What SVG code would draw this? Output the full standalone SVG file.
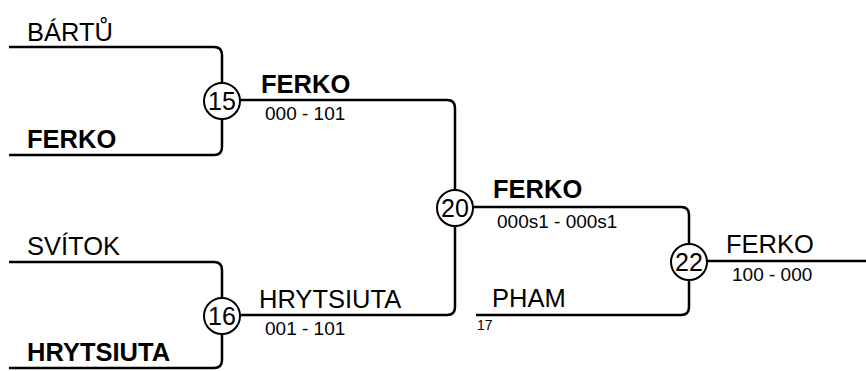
<svg xmlns="http://www.w3.org/2000/svg" width="866" height="371" viewBox="0 0 866 371">
<style>
.ln{fill:none;stroke:#000;stroke-width:2.5}
.c{fill:#fff;stroke:#000;stroke-width:2}
.nm{font-family:"Liberation Sans",Arial,sans-serif;font-size:25.5px;fill:#000}
.b{font-weight:bold}
.sc{font-family:"Liberation Sans",Arial,sans-serif;font-size:19px;fill:#000}
.num{font-family:"Liberation Sans",Arial,sans-serif;font-size:25px;fill:#000;text-anchor:middle}
.sd{font-family:"Liberation Sans",Arial,sans-serif;font-size:14px;fill:#000}
</style>
<rect width="866" height="371" fill="#fff"/>
<g id="connectors">
<path class="ln" d="M9,47 H214 Q222,47 222,55 V147 Q222,155 214,155 H9"/>
<path class="ln" d="M9,262 H214 Q222,262 222,270 V360 Q222,368 214,368 H9"/>
<path class="ln" d="M222,100 H447 Q455,100 455,108 V307 Q455,315 447,315 H222"/>
<path class="ln" d="M455,207 H681 Q689,207 689,215 V307 Q689,315 681,315 H476"/>
<path class="ln" d="M689,261 H866"/>
</g>
<g id="node-15">
<circle class="c" cx="222" cy="101" r="18"/>
<text class="num" x="222" y="110">15</text>
</g>
<g id="node-16">
<circle class="c" cx="222" cy="316" r="18"/>
<text class="num" x="222" y="325">16</text>
</g>
<g id="node-20">
<circle class="c" cx="455" cy="208" r="18"/>
<text class="num" x="455" y="217">20</text>
</g>
<g id="node-22">
<circle class="c" cx="689" cy="262" r="18"/>
<text class="num" x="689" y="271">22</text>
</g>
<g id="labels">
<text class="nm" x="27" y="41">BÁRTŮ</text>
<text class="nm b" x="27" y="148">FERKO</text>
<text class="nm" x="27" y="255">SVÍTOK</text>
<text class="nm b" x="27" y="361">HRYTSIUTA</text>
<text class="nm b" x="261" y="93">FERKO</text>
<text class="sc" x="265" y="120">000 - 101</text>
<text class="nm" x="259" y="308">HRYTSIUTA</text>
<text class="sc" x="265" y="335">001 - 101</text>
<text class="nm b" x="493" y="198">FERKO</text>
<text class="sc" x="497" y="228">000s1 - 000s1</text>
<text class="nm" x="492" y="307">PHAM</text>
<text class="sd" x="477" y="330">17</text>
<text class="nm" x="726" y="253">FERKO</text>
<text class="sc" x="732" y="281">100 - 000</text>
</g>
</svg>
